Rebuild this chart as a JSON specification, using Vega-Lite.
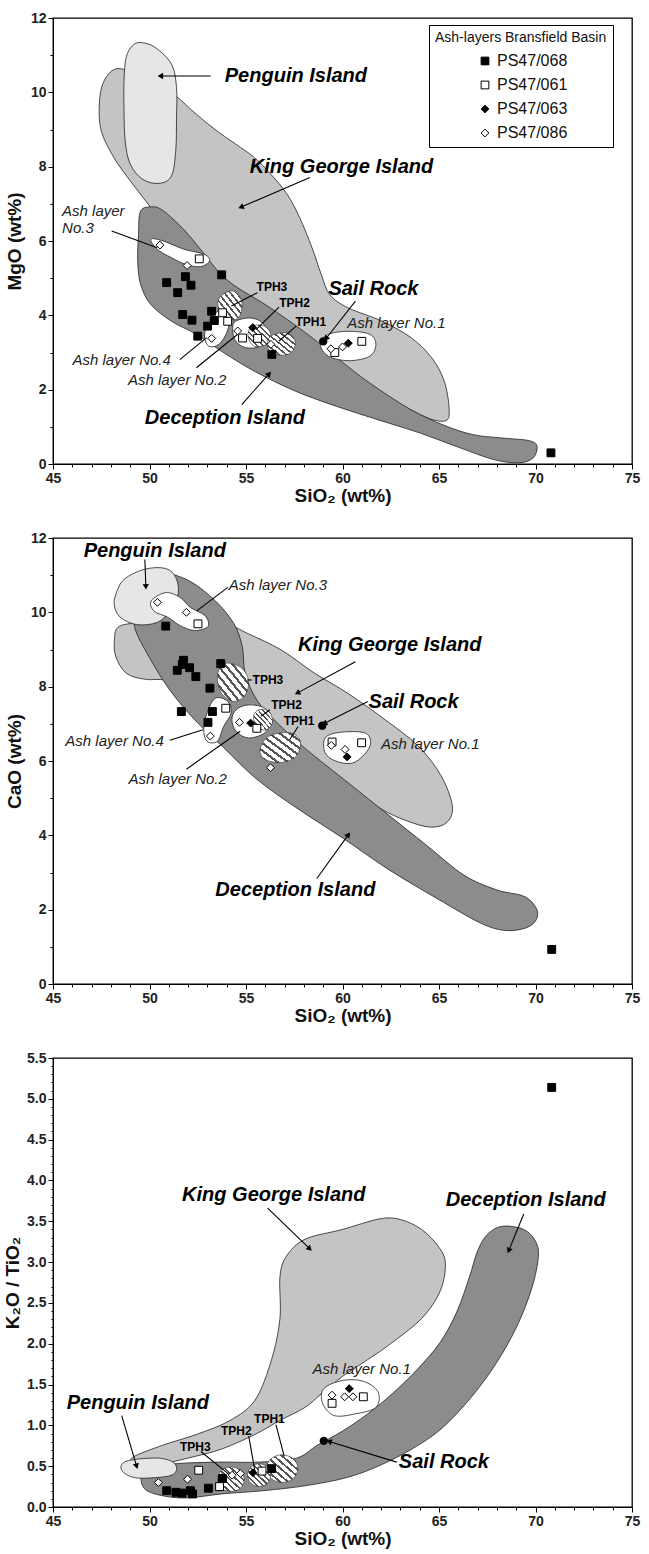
{
"$schema": "https://vega.github.io/schema/vega-lite/v6.json",
"padding": {"left": 2, "right": 0, "top": 10, "bottom": 2},
"spacing": 24,
"config": {
  "font": "Liberation Sans",
  "view": {"stroke": "black", "strokeWidth": 1.3},
  "axis": {"grid": false, "labelFont": "Liberation Sans", "labelFontSize": 14, "labelFontWeight": "bold", "labelColor": "#222", "titleFont": "Liberation Sans", "titleFontSize": 19, "titleFontWeight": "bold", "titleColor": "#111", "domainColor": "black", "tickColor": "black", "labelFlush": false, "labelOverlap": false}
},
"resolve": {"scale": {"shape": "independent", "fill": "independent", "stroke": "independent"}, "legend": {"shape": "independent", "fill": "independent", "stroke": "independent"}},
"datasets": {
"reg": [
{"g":"1pen","x":49.54,"y":11.34},{"g":"1pen","x":50.29,"y":11.21},{"g":"1pen","x":51.14,"y":10.76},{"g":"1pen","x":51.40,"y":10.13},{"g":"1pen","x":51.40,"y":9.32},{"g":"1pen","x":51.36,"y":8.43},{"g":"1pen","x":51.14,"y":7.75},{"g":"1pen","x":50.50,"y":7.55},{"g":"1pen","x":49.64,"y":7.66},{"g":"1pen","x":49.00,"y":8.07},{"g":"1pen","x":48.74,"y":8.69},{"g":"1pen","x":48.68,"y":9.50},{"g":"1pen","x":48.68,"y":10.31},{"g":"1pen","x":48.79,"y":10.94},{"g":"1pen","x":49.11,"y":11.25},
{"g":"1kgi","x":48.25,"y":10.63},{"g":"1kgi","x":49.3,"y":10.5},{"g":"1kgi","x":50.6,"y":10.2},{"g":"1kgi","x":51.36,"y":9.91},{"g":"1kgi","x":52.43,"y":9.41},{"g":"1kgi","x":53.50,"y":8.96},{"g":"1kgi","x":54.46,"y":8.61},{"g":"1kgi","x":55.42,"y":8.25},{"g":"1kgi","x":56.28,"y":7.80},{"g":"1kgi","x":57.13,"y":7.26},{"g":"1kgi","x":57.78,"y":6.63},{"g":"1kgi","x":58.42,"y":5.82},{"g":"1kgi","x":58.9,"y":5.10},{"g":"1kgi","x":59.35,"y":4.55},{"g":"1kgi","x":60.3,"y":4.2},{"g":"1kgi","x":62.06,"y":3.84},{"g":"1kgi","x":63.55,"y":3.40},{"g":"1kgi","x":64.62,"y":2.86},{"g":"1kgi","x":65.27,"y":2.23},{"g":"1kgi","x":65.52,"y":1.51},{"g":"1kgi","x":65.37,"y":1.17},{"g":"1kgi","x":64.41,"y":1.24},{"g":"1kgi","x":62.70,"y":1.69},{"g":"1kgi","x":60.56,"y":2.32},{"g":"1kgi","x":58.42,"y":2.95},{"g":"1kgi","x":56.28,"y":3.57},{"g":"1kgi","x":54.14,"y":4.38},{"g":"1kgi","x":52.43,"y":5.37},{"g":"1kgi","x":51.14,"y":6.18},{"g":"1kgi","x":50.07,"y":6.90},{"g":"1kgi","x":49.00,"y":7.62},{"g":"1kgi","x":48.15,"y":8.25},{"g":"1kgi","x":47.50,"y":8.96},{"g":"1kgi","x":47.40,"y":9.68},{"g":"1kgi","x":47.61,"y":10.27},
{"g":"1dec","x":50.18,"y":6.92},{"g":"1dec","x":49.54,"y":6.81},{"g":"1dec","x":49.43,"y":6.18},{"g":"1dec","x":49.39,"y":5.46},{"g":"1dec","x":49.54,"y":4.83},{"g":"1dec","x":50.07,"y":4.29},{"g":"1dec","x":51.14,"y":3.84},{"g":"1dec","x":52.43,"y":3.49},{"g":"1dec","x":53.71,"y":3.04},{"g":"1dec","x":55.42,"y":2.50},{"g":"1dec","x":57.56,"y":1.96},{"g":"1dec","x":59.70,"y":1.55},{"g":"1dec","x":61.84,"y":1.19},{"g":"1dec","x":63.98,"y":0.84},{"g":"1dec","x":66.12,"y":0.43},{"g":"1dec","x":67.83,"y":0.12},{"g":"1dec","x":69.12,"y":0.03},{"g":"1dec","x":69.87,"y":0.16},{"g":"1dec","x":70.08,"y":0.48},{"g":"1dec","x":69.65,"y":0.63},{"g":"1dec","x":68.26,"y":0.70},{"g":"1dec","x":66.76,"y":0.79},{"g":"1dec","x":65.27,"y":1.04},{"g":"1dec","x":63.55,"y":1.46},{"g":"1dec","x":61.41,"y":2.18},{"g":"1dec","x":59.92,"y":2.77},{"g":"1dec","x":58.42,"y":3.40},{"g":"1dec","x":57.13,"y":3.89},{"g":"1dec","x":55.85,"y":4.34},{"g":"1dec","x":54.57,"y":4.74},{"g":"1dec","x":53.71,"y":5.10},{"g":"1dec","x":52.85,"y":5.64},{"g":"1dec","x":52.00,"y":6.18},{"g":"1dec","x":51.14,"y":6.63},{"g":"1dec","x":50.61,"y":6.85},
{"g":"1a3","x":50.07,"y":6.05},{"g":"1a3","x":50.71,"y":6.00},{"g":"1a3","x":51.78,"y":5.78},{"g":"1a3","x":52.85,"y":5.64},{"g":"1a3","x":53.11,"y":5.46},{"g":"1a3","x":52.64,"y":5.31},{"g":"1a3","x":51.89,"y":5.37},{"g":"1a3","x":51.14,"y":5.55},{"g":"1a3","x":50.39,"y":5.78},
{"g":"1a2","x":54.46,"y":3.84},{"g":"1a2","x":55.21,"y":3.93},{"g":"1a2","x":55.85,"y":3.80},{"g":"1a2","x":56.06,"y":3.49},{"g":"1a2","x":55.74,"y":3.17},{"g":"1a2","x":54.99,"y":3.13},{"g":"1a2","x":54.46,"y":3.31},{"g":"1a2","x":54.31,"y":3.62},
{"g":"1a4","x":53.71,"y":4.16},{"g":"1a4","x":54.14,"y":3.98},{"g":"1a4","x":54.03,"y":3.57},{"g":"1a4","x":53.60,"y":3.22},{"g":"1a4","x":53.07,"y":3.17},{"g":"1a4","x":52.85,"y":3.44},{"g":"1a4","x":53.07,"y":3.84},
{"g":"1a1","x":58.85,"y":3.22},{"g":"1a1","x":59.27,"y":3.49},{"g":"1a1","x":60.34,"y":3.57},{"g":"1a1","x":61.41,"y":3.49},{"g":"1a1","x":61.73,"y":3.22},{"g":"1a1","x":61.41,"y":2.90},{"g":"1a1","x":60.34,"y":2.78},{"g":"1a1","x":59.27,"y":2.90},
{"g":"1t3","x":53.80,"y":4.56},{"g":"1t3","x":54.35,"y":4.65},{"g":"1t3","x":54.78,"y":4.38},{"g":"1t3","x":54.67,"y":3.98},{"g":"1t3","x":54.14,"y":3.84},{"g":"1t3","x":53.71,"y":4.02},{"g":"1t3","x":53.54,"y":4.34},
{"g":"1t2","x":55.31,"y":3.71},{"g":"1t2","x":55.96,"y":3.71},{"g":"1t2","x":56.28,"y":3.49},{"g":"1t2","x":56.06,"y":3.22},{"g":"1t2","x":55.42,"y":3.17},{"g":"1t2","x":55.10,"y":3.44},
{"g":"1t1","x":56.28,"y":3.44},{"g":"1t1","x":57.13,"y":3.53},{"g":"1t1","x":57.56,"y":3.26},{"g":"1t1","x":57.24,"y":2.96},{"g":"1t1","x":56.49,"y":2.96},{"g":"1t1","x":56.11,"y":3.17},
{"g":"2kgi","x":48.37,"y":9.60},{"g":"2kgi","x":49.33,"y":9.71},{"g":"2kgi","x":51.48,"y":9.73},{"g":"2kgi","x":53.84,"y":9.69},{"g":"2kgi","x":55.13,"y":9.42},{"g":"2kgi","x":56.85,"y":8.98},{"g":"2kgi","x":58.56,"y":8.36},{"g":"2kgi","x":60.28,"y":7.82},{"g":"2kgi","x":62.21,"y":7.11},{"g":"2kgi","x":63.93,"y":6.40},{"g":"2kgi","x":65.11,"y":5.60},{"g":"2kgi","x":65.69,"y":4.80},{"g":"2kgi","x":65.43,"y":4.36},{"g":"2kgi","x":64.57,"y":4.22},{"g":"2kgi","x":63.28,"y":4.40},{"g":"2kgi","x":62.00,"y":4.71},{"g":"2kgi","x":60.71,"y":5.16},{"g":"2kgi","x":59.42,"y":5.60},{"g":"2kgi","x":58.13,"y":6.04},{"g":"2kgi","x":56.85,"y":6.58},{"g":"2kgi","x":55.13,"y":7.29},{"g":"2kgi","x":52.98,"y":8.00},{"g":"2kgi","x":50.84,"y":8.18},{"g":"2kgi","x":49.76,"y":8.20},{"g":"2kgi","x":48.80,"y":8.36},{"g":"2kgi","x":48.26,"y":8.80},{"g":"2kgi","x":48.18,"y":9.24},
{"g":"2dec","x":50.84,"y":11.04},{"g":"2dec","x":52.12,"y":10.83},{"g":"2dec","x":53.41,"y":10.31},{"g":"2dec","x":54.38,"y":9.69},{"g":"2dec","x":54.81,"y":9.07},{"g":"2dec","x":54.96,"y":8.36},{"g":"2dec","x":55.56,"y":7.64},{"g":"2dec","x":56.63,"y":7.02},{"g":"2dec","x":58.13,"y":6.31},{"g":"2dec","x":60.06,"y":5.51},{"g":"2dec","x":62.21,"y":4.62},{"g":"2dec","x":64.36,"y":3.73},{"g":"2dec","x":66.29,"y":2.93},{"g":"2dec","x":68.00,"y":2.53},{"g":"2dec","x":69.40,"y":2.36},{"g":"2dec","x":70.04,"y":2.04},{"g":"2dec","x":70.04,"y":1.73},{"g":"2dec","x":69.51,"y":1.51},{"g":"2dec","x":68.43,"y":1.44},{"g":"2dec","x":67.15,"y":1.64},{"g":"2dec","x":65.0,"y":2.27},{"g":"2dec","x":62.42,"y":3.07},{"g":"2dec","x":60.06,"y":3.91},{"g":"2dec","x":57.70,"y":4.71},{"g":"2dec","x":55.56,"y":5.51},{"g":"2dec","x":53.84,"y":6.36},{"g":"2dec","x":52.34,"y":7.11},{"g":"2dec","x":51.05,"y":7.91},{"g":"2dec","x":49.98,"y":8.80},{"g":"2dec","x":49.23,"y":9.60},{"g":"2dec","x":49.33,"y":10.22},{"g":"2dec","x":50.09,"y":10.80},
{"g":"2pen","x":48.26,"y":10.49},{"g":"2pen","x":48.69,"y":10.89},{"g":"2pen","x":49.76,"y":11.16},{"g":"2pen","x":50.84,"y":11.18},{"g":"2pen","x":51.37,"y":10.93},{"g":"2pen","x":51.48,"y":10.49},{"g":"2pen","x":51.05,"y":10.04},{"g":"2pen","x":50.41,"y":9.73},{"g":"2pen","x":49.33,"y":9.67},{"g":"2pen","x":48.48,"y":9.87},{"g":"2pen","x":48.18,"y":10.18},
{"g":"2a3","x":50.09,"y":10.31},{"g":"2a3","x":50.84,"y":10.53},{"g":"2a3","x":51.59,"y":10.40},{"g":"2a3","x":52.12,"y":10.13},{"g":"2a3","x":52.88,"y":9.91},{"g":"2a3","x":53.03,"y":9.62},{"g":"2a3","x":52.34,"y":9.51},{"g":"2a3","x":51.59,"y":9.64},{"g":"2a3","x":50.94,"y":9.87},{"g":"2a3","x":50.24,"y":10.03},
{"g":"2a2","x":54.49,"y":7.38},{"g":"2a2","x":55.13,"y":7.51},{"g":"2a2","x":55.99,"y":7.42},{"g":"2a2","x":56.24,"y":7.11},{"g":"2a2","x":55.99,"y":6.76},{"g":"2a2","x":55.13,"y":6.62},{"g":"2a2","x":54.49,"y":6.80},{"g":"2a2","x":54.27,"y":7.11},
{"g":"2a4","x":53.41,"y":7.69},{"g":"2a4","x":54.06,"y":7.60},{"g":"2a4","x":54.23,"y":7.29},{"g":"2a4","x":53.84,"y":6.93},{"g":"2a4","x":53.52,"y":6.53},{"g":"2a4","x":52.98,"y":6.53},{"g":"2a4","x":52.81,"y":6.84},{"g":"2a4","x":52.98,"y":7.29},
{"g":"2a1","x":59.10,"y":6.62},{"g":"2a1","x":59.85,"y":6.77},{"g":"2a1","x":61.14,"y":6.76},{"g":"2a1","x":61.46,"y":6.49},{"g":"2a1","x":61.14,"y":6.18},{"g":"2a1","x":60.49,"y":5.94},{"g":"2a1","x":59.64,"y":6.0},{"g":"2a1","x":59.10,"y":6.22},
{"g":"2t3","x":53.84,"y":8.62},{"g":"2t3","x":54.70,"y":8.53},{"g":"2t3","x":55.13,"y":8.18},{"g":"2t3","x":54.96,"y":7.78},{"g":"2t3","x":54.38,"y":7.60},{"g":"2t3","x":53.73,"y":7.82},{"g":"2t3","x":53.52,"y":8.27},
{"g":"2t2","x":55.67,"y":7.38},{"g":"2t2","x":56.20,"y":7.33},{"g":"2t2","x":56.37,"y":7.02},{"g":"2t2","x":55.99,"y":6.83},{"g":"2t2","x":55.56,"y":6.93},{"g":"2t2","x":55.39,"y":7.20},
{"g":"2t1","x":56.20,"y":6.67},{"g":"2t1","x":57.27,"y":6.76},{"g":"2t1","x":57.81,"y":6.53},{"g":"2t1","x":57.60,"y":6.13},{"g":"2t1","x":56.85,"y":5.96},{"g":"2t1","x":55.99,"y":6.04},{"g":"2t1","x":55.73,"y":6.31},
{"g":"3kgi","x":49.21,"y":0.62},{"g":"3kgi","x":50.72,"y":0.76},{"g":"3kgi","x":52.45,"y":0.89},{"g":"3kgi","x":54.17,"y":1.06},{"g":"3kgi","x":55.47,"y":1.31},{"g":"3kgi","x":56.33,"y":1.81},{"g":"3kgi","x":56.76,"y":2.31},{"g":"3kgi","x":56.76,"y":2.82},{"g":"3kgi","x":57.09,"y":3.07},{"g":"3kgi","x":58.06,"y":3.28},{"g":"3kgi","x":60.00,"y":3.40},{"g":"3kgi","x":61.94,"y":3.53},{"g":"3kgi","x":63.02,"y":3.52},{"g":"3kgi","x":64.10,"y":3.40},{"g":"3kgi","x":64.97,"y":3.19},{"g":"3kgi","x":65.33,"y":2.99},{"g":"3kgi","x":65.07,"y":2.65},{"g":"3kgi","x":64.10,"y":2.31},{"g":"3kgi","x":62.38,"y":1.98},{"g":"3kgi","x":61.08,"y":1.77},{"g":"3kgi","x":60.00,"y":1.60},{"g":"3kgi","x":58.92,"y":1.39},{"g":"3kgi","x":58.06,"y":1.22},{"g":"3kgi","x":56.76,"y":1.06},{"g":"3kgi","x":55.47,"y":0.89},{"g":"3kgi","x":53.74,"y":0.71},{"g":"3kgi","x":52.01,"y":0.60},{"g":"3kgi","x":50.72,"y":0.53},{"g":"3kgi","x":49.64,"y":0.50},{"g":"3kgi","x":49.10,"y":0.55},
{"g":"3dec","x":49.75,"y":0.47},{"g":"3dec","x":51.37,"y":0.53},{"g":"3dec","x":53.53,"y":0.55},{"g":"3dec","x":55.68,"y":0.55},{"g":"3dec","x":57.63,"y":0.60},{"g":"3dec","x":58.71,"y":0.76},{"g":"3dec","x":60.00,"y":0.93},{"g":"3dec","x":61.30,"y":1.14},{"g":"3dec","x":62.59,"y":1.39},{"g":"3dec","x":63.89,"y":1.69},{"g":"3dec","x":65.07,"y":2.02},{"g":"3dec","x":65.94,"y":2.40},{"g":"3dec","x":66.58,"y":2.82},{"g":"3dec","x":67.02,"y":3.15},{"g":"3dec","x":67.55,"y":3.35},{"g":"3dec","x":68.31,"y":3.44},{"g":"3dec","x":69.39,"y":3.40},{"g":"3dec","x":69.99,"y":3.26},{"g":"3dec","x":70.15,"y":3.07},{"g":"3dec","x":69.82,"y":2.69},{"g":"3dec","x":69.07,"y":2.23},{"g":"3dec","x":67.99,"y":1.77},{"g":"3dec","x":66.69,"y":1.35},{"g":"3dec","x":65.18,"y":0.97},{"g":"3dec","x":63.67,"y":0.72},{"g":"3dec","x":61.94,"y":0.51},{"g":"3dec","x":60.22,"y":0.36},{"g":"3dec","x":58.06,"y":0.26},{"g":"3dec","x":55.90,"y":0.20},{"g":"3dec","x":53.74,"y":0.16},{"g":"3dec","x":51.80,"y":0.11},{"g":"3dec","x":50.29,"y":0.16},{"g":"3dec","x":49.64,"y":0.26},
{"g":"3pen","x":48.78,"y":0.56},{"g":"3pen","x":50.29,"y":0.60},{"g":"3pen","x":51.15,"y":0.56},{"g":"3pen","x":51.41,"y":0.47},{"g":"3pen","x":51.15,"y":0.39},{"g":"3pen","x":50.29,"y":0.36},{"g":"3pen","x":49.21,"y":0.36},{"g":"3pen","x":48.56,"y":0.45},
{"g":"3a1","x":59.03,"y":1.45},{"g":"3a1","x":60.00,"y":1.55},{"g":"3a1","x":61.08,"y":1.54},{"g":"3a1","x":61.84,"y":1.41},{"g":"3a1","x":61.73,"y":1.22},{"g":"3a1","x":60.65,"y":1.14},{"g":"3a1","x":59.57,"y":1.12},{"g":"3a1","x":58.97,"y":1.27},
{"g":"3t1","x":57.69,"y":0.47},{"g":"3t1","x":57.45,"y":0.59},{"g":"3t1","x":56.87,"y":0.64},{"g":"3t1","x":56.29,"y":0.59},{"g":"3t1","x":56.05,"y":0.47},{"g":"3t1","x":56.29,"y":0.35},{"g":"3t1","x":56.87,"y":0.30},{"g":"3t1","x":57.45,"y":0.35},
{"g":"3t2","x":56.28,"y":0.39},{"g":"3t2","x":56.10,"y":0.49},{"g":"3t2","x":55.68,"y":0.53},{"g":"3t2","x":55.26,"y":0.49},{"g":"3t2","x":55.08,"y":0.39},{"g":"3t2","x":55.26,"y":0.29},{"g":"3t2","x":55.68,"y":0.25},{"g":"3t2","x":56.10,"y":0.29},
{"g":"3t3","x":54.91,"y":0.34},{"g":"3t3","x":54.71,"y":0.45},{"g":"3t3","x":54.22,"y":0.49},{"g":"3t3","x":53.73,"y":0.45},{"g":"3t3","x":53.53,"y":0.34},{"g":"3t3","x":53.73,"y":0.23},{"g":"3t3","x":54.22,"y":0.19},{"g":"3t3","x":54.71,"y":0.23}
],
"pts": [
{"p":1,"s":"PS47/068","x":50.89,"y":4.88},{"p":1,"s":"PS47/068","x":51.86,"y":5.04},{"p":1,"s":"PS47/068","x":52.15,"y":4.81},{"p":1,"s":"PS47/068","x":51.46,"y":4.61},{"p":1,"s":"PS47/068","x":53.74,"y":5.09},{"p":1,"s":"PS47/068","x":51.72,"y":4.02},{"p":1,"s":"PS47/068","x":52.20,"y":3.87},{"p":1,"s":"PS47/068","x":53.22,"y":4.11},{"p":1,"s":"PS47/068","x":53.36,"y":3.86},{"p":1,"s":"PS47/068","x":53.01,"y":3.71},{"p":1,"s":"PS47/068","x":52.50,"y":3.44},{"p":1,"s":"PS47/068","x":56.34,"y":2.95},{"p":1,"s":"PS47/068","x":70.8,"y":0.3},
{"p":1,"s":"PS47/061","x":52.58,"y":5.52},{"p":1,"s":"PS47/061","x":53.79,"y":4.07},{"p":1,"s":"PS47/061","x":54.05,"y":3.84},{"p":1,"s":"PS47/061","x":54.82,"y":3.39},{"p":1,"s":"PS47/061","x":55.60,"y":3.38},{"p":1,"s":"PS47/061","x":59.6,"y":3.0},{"p":1,"s":"PS47/061","x":61.0,"y":3.3},
{"p":1,"s":"PS47/063","x":55.35,"y":3.67},{"p":1,"s":"PS47/063","x":60.3,"y":3.25},
{"p":1,"s":"PS47/086","x":50.54,"y":5.89},{"p":1,"s":"PS47/086","x":51.95,"y":5.34},{"p":1,"s":"PS47/086","x":53.22,"y":3.38},{"p":1,"s":"PS47/086","x":54.57,"y":3.58},{"p":1,"s":"PS47/086","x":56.29,"y":3.22},{"p":1,"s":"PS47/086","x":59.4,"y":3.1},{"p":1,"s":"PS47/086","x":60.0,"y":3.15},
{"p":1,"s":"SR","x":59.0,"y":3.3},
{"p":2,"s":"PS47/068","x":50.84,"y":9.63},{"p":2,"s":"PS47/068","x":51.76,"y":8.71},{"p":2,"s":"PS47/068","x":51.70,"y":8.60},{"p":2,"s":"PS47/068","x":51.44,"y":8.44},{"p":2,"s":"PS47/068","x":52.08,"y":8.51},{"p":2,"s":"PS47/068","x":52.40,"y":8.27},{"p":2,"s":"PS47/068","x":53.13,"y":7.96},{"p":2,"s":"PS47/068","x":53.69,"y":8.62},{"p":2,"s":"PS47/068","x":51.65,"y":7.33},{"p":2,"s":"PS47/068","x":53.26,"y":7.33},{"p":2,"s":"PS47/068","x":53.03,"y":7.04},{"p":2,"s":"PS47/068","x":70.84,"y":0.93},
{"p":2,"s":"PS47/061","x":52.51,"y":9.69},{"p":2,"s":"PS47/061","x":53.95,"y":7.42},{"p":2,"s":"PS47/061","x":55.56,"y":6.88},{"p":2,"s":"PS47/061","x":59.46,"y":6.51},{"p":2,"s":"PS47/061","x":60.99,"y":6.49},
{"p":2,"s":"PS47/063","x":55.24,"y":7.02},{"p":2,"s":"PS47/063","x":60.24,"y":6.11},
{"p":2,"s":"PS47/086","x":50.41,"y":10.27},{"p":2,"s":"PS47/086","x":51.91,"y":10.0},{"p":2,"s":"PS47/086","x":53.15,"y":6.67},{"p":2,"s":"PS47/086","x":54.66,"y":7.04},{"p":2,"s":"PS47/086","x":56.27,"y":5.82},{"p":2,"s":"PS47/086","x":59.42,"y":6.42},{"p":2,"s":"PS47/086","x":60.13,"y":6.31},
{"p":2,"s":"SR","x":58.95,"y":6.95},
{"p":3,"s":"PS47/068","x":50.89,"y":0.20},{"p":3,"s":"PS47/068","x":51.37,"y":0.18},{"p":3,"s":"PS47/068","x":51.69,"y":0.17},{"p":3,"s":"PS47/068","x":52.12,"y":0.20},{"p":3,"s":"PS47/068","x":52.23,"y":0.16},{"p":3,"s":"PS47/068","x":53.05,"y":0.23},{"p":3,"s":"PS47/068","x":53.78,"y":0.35},{"p":3,"s":"PS47/068","x":56.33,"y":0.47},{"p":3,"s":"PS47/068","x":70.84,"y":5.14},
{"p":3,"s":"PS47/061","x":52.55,"y":0.45},{"p":3,"s":"PS47/061","x":53.63,"y":0.25},{"p":3,"s":"PS47/061","x":55.83,"y":0.44},{"p":3,"s":"PS47/061","x":59.46,"y":1.27},{"p":3,"s":"PS47/061","x":61.08,"y":1.35},
{"p":3,"s":"PS47/063","x":55.36,"y":0.42},{"p":3,"s":"PS47/063","x":60.35,"y":1.45},
{"p":3,"s":"PS47/086","x":50.46,"y":0.30},{"p":3,"s":"PS47/086","x":51.97,"y":0.34},{"p":3,"s":"PS47/086","x":54.28,"y":0.39},{"p":3,"s":"PS47/086","x":54.71,"y":0.41},{"p":3,"s":"PS47/086","x":59.46,"y":1.37},{"p":3,"s":"PS47/086","x":60.11,"y":1.35},{"p":3,"s":"PS47/086","x":60.54,"y":1.35},
{"p":3,"s":"SR","x":59.03,"y":0.81}
],
"seg": [
{"p":1,"x":53.17,"y":10.44,"x2":50.61,"y2":10.44},{"p":1,"x":58.31,"y":7.71,"x2":54.78,"y2":6.92},{"p":1,"x":60.67,"y":4.38,"x2":59.17,"y2":3.39},{"p":1,"x":54.78,"y":1.60,"x2":56.17,"y2":2.41},{"p":1,"x":48.04,"y":6.27,"x2":50.40,"y2":5.82},{"p":1,"x":57.60,"y":3.71,"x2":56.71,"y2":3.31},{"p":1,"x":56.71,"y":4.22,"x2":55.53,"y2":3.62},{"p":1,"x":55.59,"y":4.61,"x2":54.24,"y2":4.25},{"p":1,"x":51.57,"y":2.81,"x2":52.96,"y2":3.40},{"p":1,"x":52.43,"y":2.59,"x2":54.57,"y2":3.49},
{"p":2,"x":49.76,"y":11.42,"x2":49.81,"y2":10.71},{"p":2,"x":60.67,"y":8.67,"x2":57.70,"y2":7.84},{"p":2,"x":61.31,"y":7.60,"x2":59.10,"y2":7.02},{"p":2,"x":58.67,"y":2.84,"x2":60.28,"y2":4.0},{"p":2,"x":54.06,"y":10.67,"x2":52.45,"y2":10.04},{"p":2,"x":55.30,"y":8.18,"x2":55.05,"y2":8.18},{"p":2,"x":56.24,"y":7.38,"x2":55.77,"y2":7.20},{"p":2,"x":57.70,"y":6.93,"x2":57.27,"y2":6.58},{"p":2,"x":51.05,"y":6.56,"x2":52.77,"y2":6.84},{"p":2,"x":51.91,"y":5.78,"x2":54.70,"y2":6.80},
{"p":3,"x":56.12,"y":3.66,"x2":58.27,"y2":3.17},{"p":3,"x":69.39,"y":3.59,"x2":68.63,"y2":3.15},{"p":3,"x":48.56,"y":1.12,"x2":49.32,"y2":0.51},{"p":3,"x":62.81,"y":0.55,"x2":59.35,"y2":0.80},{"p":3,"x":56.55,"y":1.01,"x2":56.98,"y2":0.62},{"p":3,"x":55.14,"y":0.87,"x2":55.47,"y2":0.43},{"p":3,"x":52.66,"y":0.68,"x2":54.17,"y2":0.39}
],
"head": [
{"p":1,"x":50.61,"y":10.44,"a":270},{"p":1,"x":54.78,"y":6.92,"a":247},{"p":1,"x":59.17,"y":3.39,"a":218},{"p":1,"x":56.17,"y":2.41,"a":42},
{"p":2,"x":49.81,"y":10.71,"a":178},{"p":2,"x":57.70,"y":7.84,"a":242},{"p":2,"x":59.10,"y":7.02,"a":243},{"p":2,"x":60.28,"y":4.0,"a":36},
{"p":3,"x":58.27,"y":3.17,"a":134},{"p":3,"x":68.63,"y":3.15,"a":202},{"p":3,"x":49.32,"y":0.51,"a":164},{"p":3,"x":59.35,"y":0.80,"a":287}
],
"txt": [
{"p":1,"s":"B","x":53.9,"y":10.45,"t":"Penguin Island"},{"p":1,"s":"B","x":55.2,"y":8.0,"t":"King George Island"},{"p":1,"s":"B","x":59.27,"y":4.70,"t":"Sail Rock"},{"p":1,"s":"B","x":49.76,"y":1.24,"t":"Deception Island"},
{"p":1,"s":"I","x":60.24,"y":3.80,"t":"Ash layer No.1"},{"p":1,"s":"I","x":46.01,"y":2.79,"t":"Ash layer No.4"},{"p":1,"s":"I","x":48.88,"y":2.25,"t":"Ash layer No.2"},{"p":1,"s":"I","x":45.47,"y":6.81,"t":"Ash layer"},{"p":1,"s":"I","x":45.47,"y":6.36,"t":"No.3"},
{"p":1,"s":"T","x":57.56,"y":3.83,"t":"TPH1"},{"p":1,"s":"T","x":56.72,"y":4.34,"t":"TPH2"},{"p":1,"s":"T","x":55.55,"y":4.76,"t":"TPH3"},
{"p":2,"s":"B","x":46.59,"y":11.64,"t":"Penguin Island"},{"p":2,"s":"B","x":57.70,"y":9.11,"t":"King George Island"},{"p":2,"s":"B","x":61.35,"y":7.60,"t":"Sail Rock"},{"p":2,"s":"B","x":53.41,"y":2.53,"t":"Deception Island"},
{"p":2,"s":"I","x":54.10,"y":10.74,"t":"Ash layer No.3"},{"p":2,"s":"I","x":62.0,"y":6.47,"t":"Ash layer No.1"},{"p":2,"s":"I","x":45.64,"y":6.53,"t":"Ash layer No.4"},{"p":2,"s":"I","x":48.91,"y":5.51,"t":"Ash layer No.2"},
{"p":2,"s":"T","x":55.34,"y":8.18,"t":"TPH3"},{"p":2,"s":"T","x":56.31,"y":7.51,"t":"TPH2"},{"p":2,"s":"T","x":56.95,"y":7.08,"t":"TPH1"},
{"p":3,"s":"B","x":51.69,"y":3.82,"t":"King George Island"},{"p":3,"s":"B","x":65.35,"y":3.76,"t":"Deception Island"},{"p":3,"s":"B","x":45.71,"y":1.27,"t":"Penguin Island"},{"p":3,"s":"B","x":62.92,"y":0.55,"t":"Sail Rock"},
{"p":3,"s":"I","x":58.45,"y":1.69,"t":"Ash layer No.1"},
{"p":3,"s":"T","x":55.42,"y":1.08,"t":"TPH1"},{"p":3,"s":"T","x":53.70,"y":0.93,"t":"TPH2"},{"p":3,"s":"T","x":51.58,"y":0.73,"t":"TPH3"}
]
},
"vconcat": [
{
"width": 579, "height": 446,
"encoding": {
  "x": {"field": "x", "type": "quantitative", "scale": {"domain": [45, 75], "nice": false, "zero": false}, "axis": {"title": "SiO₂ (wt%)", "tickCount": 30, "labelExpr": "datum.value % 5 == 0 ? datum.label : ''", "tickSize": {"condition": {"test": "datum.value % 5 == 0", "value": 5}, "value": 3}, "labelPadding": 2, "titlePadding": 1}},
  "y": {"field": "y", "type": "quantitative", "scale": {"domain": [0, 12], "nice": false, "zero": false}, "axis": {"title": "MgO (wt%)", "tickCount": 12, "labelExpr": "datum.value % 2 == 0 ? datum.label : ''", "tickSize": {"condition": {"test": "datum.value % 2 == 0", "value": 5}, "value": 3}, "labelPadding": 2, "titlePadding": 6}}
},
"layer": [
  {"data": {"name": "reg"}, "transform": [{"filter": "datum.g == '1kgi'"}], "mark": {"type": "line", "interpolate": "cardinal-closed", "fill": "#c4c4c4", "stroke": "#222", "strokeWidth": 0.8}, "encoding": {"detail": {"field": "g", "type": "nominal"}, "order": {"value": null}}},
  {"data": {"name": "reg"}, "transform": [{"filter": "datum.g == '1dec'"}], "mark": {"type": "line", "interpolate": "cardinal-closed", "fill": "#8c8c8c", "stroke": "#222", "strokeWidth": 0.8}, "encoding": {"detail": {"field": "g", "type": "nominal"}, "order": {"value": null}}},
  {"data": {"name": "reg"}, "transform": [{"filter": "datum.g == '1pen'"}], "mark": {"type": "line", "interpolate": "cardinal-closed", "fill": "#e6e6e6", "stroke": "#222", "strokeWidth": 0.8}, "encoding": {"detail": {"field": "g", "type": "nominal"}, "order": {"value": null}}},
  {"data": {"name": "reg"}, "transform": [{"filter": "substring(datum.g, 0, 2) == '1a'"}], "mark": {"type": "line", "interpolate": "cardinal-closed", "fill": "white", "stroke": "#222", "strokeWidth": 0.8}, "encoding": {"detail": {"field": "g", "type": "nominal"}, "order": {"value": null}}},
  {"data": {"name": "reg"}, "transform": [{"filter": "substring(datum.g, 0, 2) == '1t'"}], "mark": {"type": "line", "interpolate": "cardinal-closed", "stroke": "#333", "strokeWidth": 0.6, "fill": {"gradient": "linear", "x1": 0, "y1": 1, "x2": 1, "y2": 0, "stops": [{"offset":0,"color":"white"},{"offset":0.08,"color":"white"},{"offset":0.08,"color":"#555"},{"offset":0.125,"color":"#555"},{"offset":0.125,"color":"white"},{"offset":0.205,"color":"white"},{"offset":0.205,"color":"#555"},{"offset":0.25,"color":"#555"},{"offset":0.25,"color":"white"},{"offset":0.33,"color":"white"},{"offset":0.33,"color":"#555"},{"offset":0.375,"color":"#555"},{"offset":0.375,"color":"white"},{"offset":0.455,"color":"white"},{"offset":0.455,"color":"#555"},{"offset":0.5,"color":"#555"},{"offset":0.5,"color":"white"},{"offset":0.58,"color":"white"},{"offset":0.58,"color":"#555"},{"offset":0.625,"color":"#555"},{"offset":0.625,"color":"white"},{"offset":0.705,"color":"white"},{"offset":0.705,"color":"#555"},{"offset":0.75,"color":"#555"},{"offset":0.75,"color":"white"},{"offset":0.83,"color":"white"},{"offset":0.83,"color":"#555"},{"offset":0.875,"color":"#555"},{"offset":0.875,"color":"white"},{"offset":1,"color":"white"}]}}, "encoding": {"detail": {"field": "g", "type": "nominal"}, "order": {"value": null}}},
  {"data": {"name": "seg"}, "transform": [{"filter": "datum.p == 1"}], "mark": {"type": "rule", "color": "black", "strokeWidth": 1.1}, "encoding": {"x2": {"field": "x2"}, "y2": {"field": "y2"}}},
  {"data": {"name": "head"}, "transform": [{"filter": "datum.p == 1"}], "mark": {"type": "point", "shape": "triangle", "filled": true, "color": "black", "size": 40, "opacity": 1}, "encoding": {"angle": {"field": "a", "type": "quantitative", "scale": null}}},
  {"data": {"name": "pts"}, "transform": [{"filter": "datum.p == 1 && datum.s != 'SR'"}], "mark": {"type": "point", "filled": true, "strokeWidth": 1, "size": 62, "opacity": 1},
   "encoding": {
     "shape": {"field": "s", "type": "nominal", "scale": {"domain": ["PS47/068","PS47/061","PS47/063","PS47/086"], "range": ["square","square","diamond","diamond"]}, "legend": {"title": "Ash-layers Bransfield Basin", "orient": "none", "legendX": 376, "legendY": 7, "strokeColor": "black", "fillColor": "white", "padding": 6, "titleFontSize": 14, "titleLimit": 400, "titleFontWeight": "normal", "titleColor": "#111", "labelFontSize": 16, "labelColor": "#111", "symbolOffset": 42, "rowPadding": 8, "symbolStrokeWidth": 1, "symbolSize": 60, "titlePadding": 8}},
     "fill": {"field": "s", "type": "nominal", "scale": {"domain": ["PS47/068","PS47/061","PS47/063","PS47/086"], "range": ["black","white","black","white"]}, "legend": {"title": "Ash-layers Bransfield Basin", "orient": "none", "legendX": 376, "legendY": 7, "strokeColor": "black", "fillColor": "white", "padding": 6, "titleFontSize": 14, "titleLimit": 400, "titleFontWeight": "normal", "titleColor": "#111", "labelFontSize": 16, "labelColor": "#111", "symbolOffset": 42, "rowPadding": 8, "symbolStrokeWidth": 1, "symbolSize": 60, "titlePadding": 8}},
     "stroke": {"field": "s", "type": "nominal", "scale": {"domain": ["PS47/068","PS47/061","PS47/063","PS47/086"], "range": ["black","black","black","black"]}, "legend": {"title": "Ash-layers Bransfield Basin", "orient": "none", "legendX": 376, "legendY": 7, "strokeColor": "black", "fillColor": "white", "padding": 6, "titleFontSize": 14, "titleLimit": 400, "titleFontWeight": "normal", "titleColor": "#111", "labelFontSize": 16, "labelColor": "#111", "symbolOffset": 42, "rowPadding": 8, "symbolStrokeWidth": 1, "symbolSize": 60, "titlePadding": 8}}
   }},
  {"data": {"name": "pts"}, "transform": [{"filter": "datum.p == 1 && datum.s == 'SR'"}], "mark": {"type": "circle", "color": "black", "size": 70, "opacity": 1}},
  {"data": {"name": "txt"}, "transform": [{"filter": "datum.p == 1 && datum.s == 'B'"}], "mark": {"type": "text", "align": "left", "baseline": "middle", "fontSize": 20, "fontWeight": "bold", "fontStyle": "italic", "color": "black"}, "encoding": {"text": {"field": "t"}}},
  {"data": {"name": "txt"}, "transform": [{"filter": "datum.p == 1 && datum.s == 'I'"}], "mark": {"type": "text", "align": "left", "baseline": "middle", "fontSize": 15, "fontStyle": "italic", "color": "#222"}, "encoding": {"text": {"field": "t"}}},
  {"data": {"name": "txt"}, "transform": [{"filter": "datum.p == 1 && datum.s == 'T'"}], "mark": {"type": "text", "align": "left", "baseline": "middle", "fontSize": 12, "fontWeight": "bold", "color": "black"}, "encoding": {"text": {"field": "t"}}}
]
},
{
"width": 579, "height": 446,
"encoding": {
  "x": {"field": "x", "type": "quantitative", "scale": {"domain": [45, 75], "nice": false, "zero": false}, "axis": {"title": "SiO₂ (wt%)", "tickCount": 30, "labelExpr": "datum.value % 5 == 0 ? datum.label : ''", "tickSize": {"condition": {"test": "datum.value % 5 == 0", "value": 5}, "value": 3}, "labelPadding": 2, "titlePadding": 1}},
  "y": {"field": "y", "type": "quantitative", "scale": {"domain": [0, 12], "nice": false, "zero": false}, "axis": {"title": "CaO (wt%)", "tickCount": 12, "labelExpr": "datum.value % 2 == 0 ? datum.label : ''", "tickSize": {"condition": {"test": "datum.value % 2 == 0", "value": 5}, "value": 3}, "labelPadding": 2, "titlePadding": 6}}
},
"layer": [
  {"data": {"name": "reg"}, "transform": [{"filter": "datum.g == '2kgi'"}], "mark": {"type": "line", "interpolate": "cardinal-closed", "fill": "#c4c4c4", "stroke": "#222", "strokeWidth": 0.8}, "encoding": {"detail": {"field": "g", "type": "nominal"}, "order": {"value": null}}},
  {"data": {"name": "reg"}, "transform": [{"filter": "datum.g == '2dec'"}], "mark": {"type": "line", "interpolate": "cardinal-closed", "fill": "#8c8c8c", "stroke": "#222", "strokeWidth": 0.8}, "encoding": {"detail": {"field": "g", "type": "nominal"}, "order": {"value": null}}},
  {"data": {"name": "reg"}, "transform": [{"filter": "datum.g == '2pen'"}], "mark": {"type": "line", "interpolate": "cardinal-closed", "fill": "#e6e6e6", "stroke": "#222", "strokeWidth": 0.8}, "encoding": {"detail": {"field": "g", "type": "nominal"}, "order": {"value": null}}},
  {"data": {"name": "reg"}, "transform": [{"filter": "substring(datum.g, 0, 2) == '2a'"}], "mark": {"type": "line", "interpolate": "cardinal-closed", "fill": "white", "stroke": "#222", "strokeWidth": 0.8}, "encoding": {"detail": {"field": "g", "type": "nominal"}, "order": {"value": null}}},
  {"data": {"name": "reg"}, "transform": [{"filter": "substring(datum.g, 0, 2) == '2t'"}], "mark": {"type": "line", "interpolate": "cardinal-closed", "stroke": "#333", "strokeWidth": 0.6, "fill": {"gradient": "linear", "x1": 0, "y1": 1, "x2": 1, "y2": 0, "stops": [{"offset":0,"color":"white"},{"offset":0.08,"color":"white"},{"offset":0.08,"color":"#555"},{"offset":0.125,"color":"#555"},{"offset":0.125,"color":"white"},{"offset":0.205,"color":"white"},{"offset":0.205,"color":"#555"},{"offset":0.25,"color":"#555"},{"offset":0.25,"color":"white"},{"offset":0.33,"color":"white"},{"offset":0.33,"color":"#555"},{"offset":0.375,"color":"#555"},{"offset":0.375,"color":"white"},{"offset":0.455,"color":"white"},{"offset":0.455,"color":"#555"},{"offset":0.5,"color":"#555"},{"offset":0.5,"color":"white"},{"offset":0.58,"color":"white"},{"offset":0.58,"color":"#555"},{"offset":0.625,"color":"#555"},{"offset":0.625,"color":"white"},{"offset":0.705,"color":"white"},{"offset":0.705,"color":"#555"},{"offset":0.75,"color":"#555"},{"offset":0.75,"color":"white"},{"offset":0.83,"color":"white"},{"offset":0.83,"color":"#555"},{"offset":0.875,"color":"#555"},{"offset":0.875,"color":"white"},{"offset":1,"color":"white"}]}}, "encoding": {"detail": {"field": "g", "type": "nominal"}, "order": {"value": null}}},
  {"data": {"name": "seg"}, "transform": [{"filter": "datum.p == 2"}], "mark": {"type": "rule", "color": "black", "strokeWidth": 1.1}, "encoding": {"x2": {"field": "x2"}, "y2": {"field": "y2"}}},
  {"data": {"name": "head"}, "transform": [{"filter": "datum.p == 2"}], "mark": {"type": "point", "shape": "triangle", "filled": true, "color": "black", "size": 40, "opacity": 1}, "encoding": {"angle": {"field": "a", "type": "quantitative", "scale": null}}},
  {"data": {"name": "pts"}, "transform": [{"filter": "datum.p == 2 && datum.s != 'SR'"}], "mark": {"type": "point", "filled": true, "stroke": "black", "strokeWidth": 1, "size": 62, "opacity": 1},
   "encoding": {
     "shape": {"field": "s", "type": "nominal", "scale": {"domain": ["PS47/068","PS47/061","PS47/063","PS47/086"], "range": ["square","square","diamond","diamond"]}, "legend": null},
     "fill": {"field": "s", "type": "nominal", "scale": {"domain": ["PS47/068","PS47/061","PS47/063","PS47/086"], "range": ["black","white","black","white"]}, "legend": null}
   }},
  {"data": {"name": "pts"}, "transform": [{"filter": "datum.p == 2 && datum.s == 'SR'"}], "mark": {"type": "circle", "color": "black", "size": 70, "opacity": 1}},
  {"data": {"name": "txt"}, "transform": [{"filter": "datum.p == 2 && datum.s == 'B'"}], "mark": {"type": "text", "align": "left", "baseline": "middle", "fontSize": 20, "fontWeight": "bold", "fontStyle": "italic", "color": "black"}, "encoding": {"text": {"field": "t"}}},
  {"data": {"name": "txt"}, "transform": [{"filter": "datum.p == 2 && datum.s == 'I'"}], "mark": {"type": "text", "align": "left", "baseline": "middle", "fontSize": 15, "fontStyle": "italic", "color": "#222"}, "encoding": {"text": {"field": "t"}}},
  {"data": {"name": "txt"}, "transform": [{"filter": "datum.p == 2 && datum.s == 'T'"}], "mark": {"type": "text", "align": "left", "baseline": "middle", "fontSize": 12, "fontWeight": "bold", "color": "black"}, "encoding": {"text": {"field": "t"}}}
]
},
{
"width": 579, "height": 449,
"encoding": {
  "x": {"field": "x", "type": "quantitative", "scale": {"domain": [45, 75], "nice": false, "zero": false}, "axis": {"title": "SiO₂ (wt%)", "tickCount": 30, "labelExpr": "datum.value % 5 == 0 ? datum.label : ''", "tickSize": {"condition": {"test": "datum.value % 5 == 0", "value": 5}, "value": 3}, "labelPadding": 2, "titlePadding": 1}},
  "y": {"field": "y", "type": "quantitative", "scale": {"domain": [0, 5.5], "nice": false, "zero": false}, "axis": {"title": "K₂O / TiO₂", "tickCount": 55, "labelExpr": "round(datum.value * 10) % 5 == 0 ? format(datum.value, '.1f') : ''", "tickSize": {"condition": {"test": "round(datum.value * 10) % 5 == 0", "value": 5}, "value": 2}, "labelPadding": 2, "titlePadding": 4}}
},
"layer": [
  {"data": {"name": "reg"}, "transform": [{"filter": "datum.g == '3kgi'"}], "mark": {"type": "line", "interpolate": "cardinal-closed", "fill": "#c4c4c4", "stroke": "#222", "strokeWidth": 0.8}, "encoding": {"detail": {"field": "g", "type": "nominal"}, "order": {"value": null}}},
  {"data": {"name": "reg"}, "transform": [{"filter": "datum.g == '3dec'"}], "mark": {"type": "line", "interpolate": "cardinal-closed", "fill": "#8c8c8c", "stroke": "#222", "strokeWidth": 0.8}, "encoding": {"detail": {"field": "g", "type": "nominal"}, "order": {"value": null}}},
  {"data": {"name": "reg"}, "transform": [{"filter": "datum.g == '3pen'"}], "mark": {"type": "line", "interpolate": "cardinal-closed", "fill": "#e6e6e6", "stroke": "#222", "strokeWidth": 0.8}, "encoding": {"detail": {"field": "g", "type": "nominal"}, "order": {"value": null}}},
  {"data": {"name": "reg"}, "transform": [{"filter": "substring(datum.g, 0, 2) == '3a'"}], "mark": {"type": "line", "interpolate": "cardinal-closed", "fill": "white", "stroke": "#222", "strokeWidth": 0.8}, "encoding": {"detail": {"field": "g", "type": "nominal"}, "order": {"value": null}}},
  {"data": {"name": "reg"}, "transform": [{"filter": "substring(datum.g, 0, 2) == '3t'"}], "mark": {"type": "line", "interpolate": "cardinal-closed", "stroke": "#333", "strokeWidth": 0.6, "fill": {"gradient": "linear", "x1": 0, "y1": 1, "x2": 1, "y2": 0, "stops": [{"offset":0,"color":"white"},{"offset":0.08,"color":"white"},{"offset":0.08,"color":"#555"},{"offset":0.125,"color":"#555"},{"offset":0.125,"color":"white"},{"offset":0.205,"color":"white"},{"offset":0.205,"color":"#555"},{"offset":0.25,"color":"#555"},{"offset":0.25,"color":"white"},{"offset":0.33,"color":"white"},{"offset":0.33,"color":"#555"},{"offset":0.375,"color":"#555"},{"offset":0.375,"color":"white"},{"offset":0.455,"color":"white"},{"offset":0.455,"color":"#555"},{"offset":0.5,"color":"#555"},{"offset":0.5,"color":"white"},{"offset":0.58,"color":"white"},{"offset":0.58,"color":"#555"},{"offset":0.625,"color":"#555"},{"offset":0.625,"color":"white"},{"offset":0.705,"color":"white"},{"offset":0.705,"color":"#555"},{"offset":0.75,"color":"#555"},{"offset":0.75,"color":"white"},{"offset":0.83,"color":"white"},{"offset":0.83,"color":"#555"},{"offset":0.875,"color":"#555"},{"offset":0.875,"color":"white"},{"offset":1,"color":"white"}]}}, "encoding": {"detail": {"field": "g", "type": "nominal"}, "order": {"value": null}}},
  {"data": {"name": "seg"}, "transform": [{"filter": "datum.p == 3"}], "mark": {"type": "rule", "color": "black", "strokeWidth": 1.1}, "encoding": {"x2": {"field": "x2"}, "y2": {"field": "y2"}}},
  {"data": {"name": "head"}, "transform": [{"filter": "datum.p == 3"}], "mark": {"type": "point", "shape": "triangle", "filled": true, "color": "black", "size": 40, "opacity": 1}, "encoding": {"angle": {"field": "a", "type": "quantitative", "scale": null}}},
  {"data": {"name": "pts"}, "transform": [{"filter": "datum.p == 3 && datum.s != 'SR'"}], "mark": {"type": "point", "filled": true, "stroke": "black", "strokeWidth": 1, "size": 62, "opacity": 1},
   "encoding": {
     "shape": {"field": "s", "type": "nominal", "scale": {"domain": ["PS47/068","PS47/061","PS47/063","PS47/086"], "range": ["square","square","diamond","diamond"]}, "legend": null},
     "fill": {"field": "s", "type": "nominal", "scale": {"domain": ["PS47/068","PS47/061","PS47/063","PS47/086"], "range": ["black","white","black","white"]}, "legend": null}
   }},
  {"data": {"name": "pts"}, "transform": [{"filter": "datum.p == 3 && datum.s == 'SR'"}], "mark": {"type": "circle", "color": "black", "size": 70, "opacity": 1}},
  {"data": {"name": "txt"}, "transform": [{"filter": "datum.p == 3 && datum.s == 'B'"}], "mark": {"type": "text", "align": "left", "baseline": "middle", "fontSize": 20, "fontWeight": "bold", "fontStyle": "italic", "color": "black"}, "encoding": {"text": {"field": "t"}}},
  {"data": {"name": "txt"}, "transform": [{"filter": "datum.p == 3 && datum.s == 'I'"}], "mark": {"type": "text", "align": "left", "baseline": "middle", "fontSize": 15, "fontStyle": "italic", "color": "#222"}, "encoding": {"text": {"field": "t"}}},
  {"data": {"name": "txt"}, "transform": [{"filter": "datum.p == 3 && datum.s == 'T'"}], "mark": {"type": "text", "align": "left", "baseline": "middle", "fontSize": 12, "fontWeight": "bold", "color": "black"}, "encoding": {"text": {"field": "t"}}}
]
}
]
}
